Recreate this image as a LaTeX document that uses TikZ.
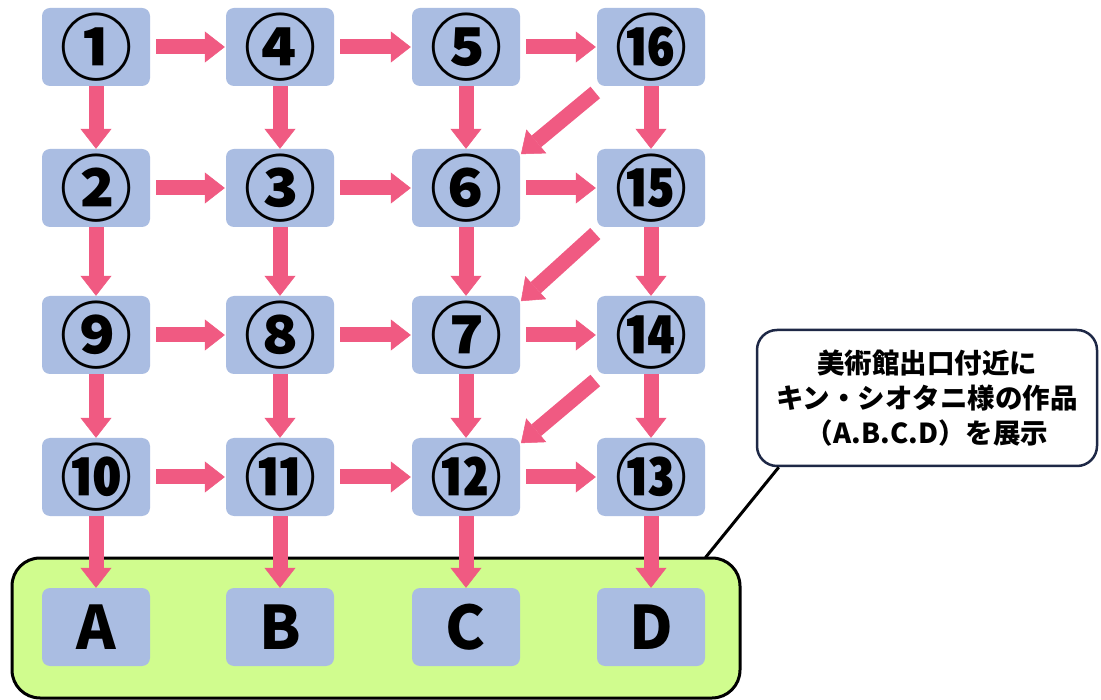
\documentclass[tikz,border=0pt]{standalone}
\usepackage{fontspec}
\newfontfamily\cjk{Noto Sans CJK JP}
\usetikzlibrary{arrows.meta}
\definecolor{nodebg}{RGB}{170,189,226}
\definecolor{pinkarr}{RGB}{240,90,130}
\definecolor{greenbg}{RGB}{208,252,142}
\definecolor{navy}{RGB}{30,40,70}
\tikzset{
  num/.style={fill=nodebg, rounded corners=8pt, minimum width=108pt, minimum height=78pt, inner sep=0pt, font=\cjk\bfseries\fontsize{72}{72}\selectfont},
  letter/.style={num, font=\cjk\bfseries\fontsize{60}{60}\selectfont},
  flow/.style={draw=pinkarr, line width=15pt, -{Triangle[width=31pt,length=20pt,line width=0.5pt]}},
  hflow/.style={flow, shorten <=6pt, shorten >=1pt},
  dflow/.style={flow, shorten <=2pt, shorten >=1pt},
  exhibit/.style={draw=black, line width=3pt, fill=greenbg, rounded corners=28pt, minimum width=728pt, minimum height=140pt},
  callout/.style={draw=navy, line width=2.5pt, fill=white, rounded corners=20pt, minimum width=340pt, minimum height=136pt, align=center, font=\cjk\bfseries\fontsize{27.5}{35}\selectfont},
}
\begin{document}
\begin{tikzpicture}[x=1pt,y=-1pt]
\useasboundingbox (0,0) rectangle (1101,700);
\fill[white] (0,0) rectangle (1101,700);
\node[exhibit] (box) at (376,628) {};
% row 1
\node[num] (n1) at (96,47) {①};
\node[num] (n4) at (280,47) {④};
\node[num] (n5) at (466,47) {⑤};
\node[num] (n16) at (651,47) {⑯};
% row 2
\node[num] (n2) at (96,188) {②};
\node[num] (n3) at (280,188) {③};
\node[num] (n6) at (466,188) {⑥};
\node[num] (n15) at (651,188) {⑮};
% row 3
\node[num] (n9) at (96,335) {⑨};
\node[num] (n8) at (280,335) {⑧};
\node[num] (n7) at (466,335) {⑦};
\node[num] (n14) at (651,335) {⑭};
% row 4
\node[num] (n10) at (96,477) {⑩};
\node[num] (n11) at (280,477) {⑪};
\node[num] (n12) at (466,477) {⑫};
\node[num] (n13) at (651,477) {⑬};
% row 5
\node[letter] (A) at (96,627) {A};
\node[letter] (B) at (280,627) {B};
\node[letter] (C) at (466,627) {C};
\node[letter] (D) at (651,627) {D};
% horizontal
\draw[hflow] (n1) -- (n4);
\draw[hflow] (n4) -- (n5);
\draw[hflow] (n5) -- (n16);
\draw[hflow] (n2) -- (n3);
\draw[hflow] (n3) -- (n6);
\draw[hflow] (n6) -- (n15);
\draw[hflow] (n9) -- (n8);
\draw[hflow] (n8) -- (n7);
\draw[hflow] (n7) -- (n14);
\draw[hflow] (n10) -- (n11);
\draw[hflow] (n11) -- (n12);
\draw[hflow] (n12) -- (n13);
% vertical
\foreach \a/\b in {n1/n2,n4/n3,n5/n6,n16/n15,n2/n9,n3/n8,n6/n7,n15/n14,n9/n10,n8/n11,n7/n12,n14/n13,n10/A,n11/B,n12/C,n13/D}
  \draw[flow] (\a.south) -- (\b.north);
% diagonal
\foreach \a/\b in {n16/n6,n15/n7,n14/n12}
  \draw[dflow] ([yshift=-5pt]\a.south west) -- ([yshift=-6pt]\b.north east);
% callout
\node[callout] (note) at (927,398) {美術館出口付近に\\キン・シオタニ様の作品\\（A.B.C.D）を展示};
\draw[black, line width=3pt] ([xshift=23pt]note.south west) -- ([xshift=-36pt,yshift=-1pt]box.north east);
\end{tikzpicture}
\end{document}
